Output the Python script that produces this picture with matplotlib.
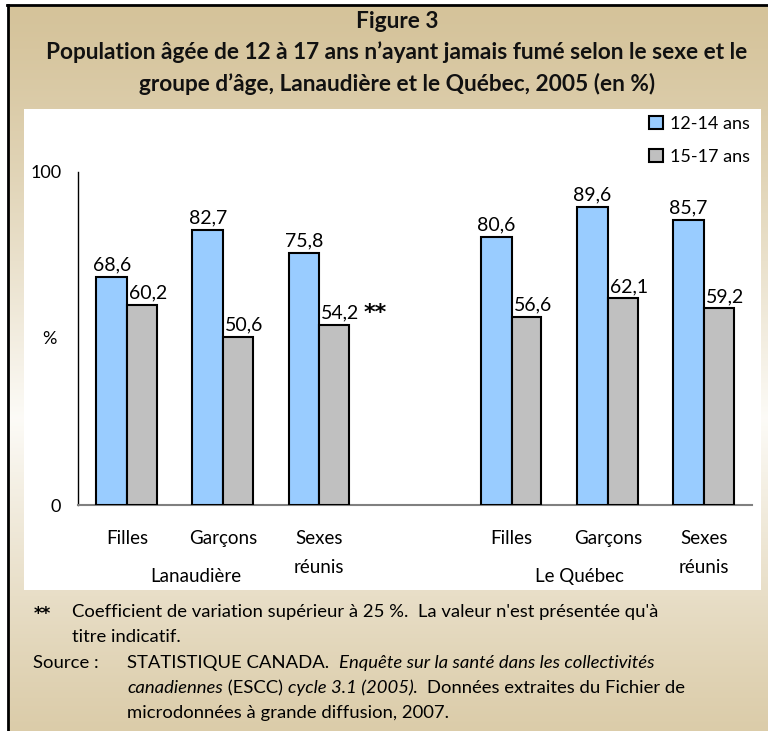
import numpy as np
import matplotlib.pyplot as plt
from matplotlib.patches import Rectangle, Patch
from matplotlib.lines import Line2D

# ------------------------------------------------------
# Data
# ------------------------------------------------------
categories = ['Filles', 'Garçons', 'Sexes\nréunis', 'Filles', 'Garçons', 'Sexes\nréunis']
positions = [0, 1, 2, 4, 5, 6]
regions = ['Lanaudière', 'Le Québec']
region_x = [0.72, 4.71]
series_names = ['12-14 ans', '15-17 ans']
age_12_14 = [68.6, 82.7, 75.8, 80.6, 89.6, 85.7]
age_15_17 = [60.2, 50.6, 54.2, 56.6, 62.1, 59.2]
flags_15_17 = ['', '', '**', '', '', '']

title_lines = ['Figure 3',
               'Population âgée de 12 à 17 ans n’ayant jamais fumé selon le sexe et le',
               'groupe d’âge, Lanaudière et le Québec, 2005 (en %)']

blue = '#99CCFF'
grey = '#C0C0C0'
tan = np.array([0.835, 0.765, 0.605])
light = np.array([0.99, 0.985, 0.97])

plt.rcParams['font.family'] = ['Lato', 'DejaVu Sans']

W, H = 768, 731
fig = plt.figure(figsize=(W / 100, H / 100), dpi=100)
fig.patch.set_facecolor('white')


def px(x, y):
    return x / W, 1 - y / H


# ------------------------------------------------------
# Background: gradient frame, black border, white panel
# ------------------------------------------------------
bg = fig.add_axes([8 / W, 0, 1 - 8 / W, 1 - 5 / H], zorder=0)
yy = np.linspace(0, 1, 300)
mix = np.clip(1 - np.abs(yy - 0.57) / 0.57, 0, 1) ** 1.3
grad = tan[None, :] * (1 - mix[:, None]) + light[None, :] * mix[:, None]
bg.imshow(grad[:, None, :], aspect='auto', extent=[0, 1, 0, 1])
bg.axis('off')

over = fig.add_axes([0, 0, 1, 1], zorder=1)
over.set_xlim(0, 1)
over.set_ylim(0, 1)
over.axis('off')
over.add_line(Line2D([7.5 / W, 7.5 / W], [0, 1 - 4.5 / H], color='black', lw=2))
over.add_line(Line2D([6.5 / W, 1], [1 - 4.5 / H, 1 - 4.5 / H], color='black', lw=2))
x0, y0 = px(24, 590)
x1, y1 = px(761, 109)
over.add_patch(Rectangle((x0, y0), x1 - x0, y1 - y0, facecolor='white', edgecolor='none'))

# Title
for i, line in enumerate(title_lines):
    fig.text(397 / W, 1 - (21 + 31.5 * i) / H, line, ha='center', va='center',
             fontsize=16.3, fontweight='bold', color='#111111', zorder=3)

# ------------------------------------------------------
# Main chart
# ------------------------------------------------------
ax = fig.add_axes([78 / W, 1 - 505 / H, (752 - 78) / W, (505 - 172) / H], zorder=2)
ax.patch.set_alpha(0)
pos = np.array(positions, dtype=float)
ax.bar(pos, age_12_14, width=-0.32, align='edge', color=blue,
       edgecolor='black', linewidth=1.5, zorder=3)
ax.bar(pos, age_15_17, width=0.31, align='edge', color=grey,
       edgecolor='black', linewidth=1.5, zorder=3)

for p, v in zip(pos, age_12_14):
    ax.annotate(f'{v:.1f}'.replace('.', ','), (p - 0.16, v), xytext=(0, 2),
                textcoords='offset points', ha='center', va='bottom', fontsize=14)
for p, v, fl in zip(pos, age_15_17, flags_15_17):
    ax.annotate(f'{v:.1f}'.replace('.', ','), (p + 0.155, v), xytext=(4.5, 2),
                textcoords='offset points', ha='center', va='bottom', fontsize=14)
    if fl:
        ax.annotate(fl, (p + 0.155, v), xytext=(29.5, 1), family='DejaVu Sans',
                    fontweight='bold', textcoords='offset points', ha='center',
                    va='bottom', fontsize=16)

ax.set_xlim(-0.51, 6.5)
ax.set_ylim(0, 100)
ax.set_yticks([0, 100])
ax.set_yticklabels(['0', '100'], fontsize=13)
ax.tick_params(axis='y', length=0, pad=12)
ax.text(-0.043, 0.5, '%', transform=ax.transAxes, ha='center', va='center', fontsize=13)
ax.set_xticks(pos)
ax.set_xticklabels(categories, fontsize=13.5, linespacing=1.85, va='top')
ax.tick_params(axis='x', length=0, pad=18)
for rx, rn in zip(region_x, regions):
    ax.text(rx, -0.215, rn, transform=ax.get_xaxis_transform(), ha='center',
            va='center', fontsize=13.5)

ax.spines['top'].set_visible(False)
ax.spines['right'].set_visible(False)
ax.spines['left'].set_color('black')
ax.spines['left'].set_linewidth(1)
ax.spines['bottom'].set_color('#808080')
ax.spines['bottom'].set_linewidth(1.5)

handles = [Patch(facecolor=blue, edgecolor='black', linewidth=1.5),
           Patch(facecolor=grey, edgecolor='black', linewidth=1.5)]
fig.legend(handles, series_names, loc='upper left', bbox_to_anchor=px(649, 116),
           frameon=False, fontsize=13, handlelength=0.75, handleheight=0.75,
           handletextpad=0.4, labelspacing=0.95, borderpad=0, borderaxespad=0)

# ------------------------------------------------------
# Footnotes
# ------------------------------------------------------
fs = 13.3
fig.text(34 / W, 1 - 614 / H, '**', fontsize=12, va='center', fontweight='bold',
         family='DejaVu Sans', zorder=3)
fig.text(72 / W, 1 - 612 / H, "Coefficient de variation supérieur à 25 %.  "
         "La valeur n'est présentée qu'à", fontsize=fs, va='center', zorder=3)
fig.text(72 / W, 1 - 637 / H, 'titre indicatif.', fontsize=fs, va='center', zorder=3)
fig.text(33 / W, 1 - 663 / H, 'Source :', fontsize=fs, va='center', zorder=3)

source_lines = [
    [('STATISTIQUE CANADA.  ', 'normal'),
     ('Enquête sur la santé dans les collectivités', 'italic')],
    [('canadiennes', 'italic'), (' (ESCC) ', 'normal'), ('cycle 3.1 (2005)', 'italic'),
     ('.  Données extraites du Fichier de', 'normal')],
    [('microdonnées à grande diffusion, 2007.', 'normal')],
]
for i, parts in enumerate(source_lines):
    first, style = parts[0]
    prev = over.text(127 / W, 1 - (663 + 25 * i) / H, first, fontsize=fs,
                     style=style, va='center', ha='left', zorder=3)
    for txt, style in parts[1:]:
        prev = over.annotate(txt, xy=(1, 0), xycoords=prev, fontsize=fs,
                             style=style, va='bottom', ha='left', zorder=3)

fig.savefig('out.png', dpi=100)
